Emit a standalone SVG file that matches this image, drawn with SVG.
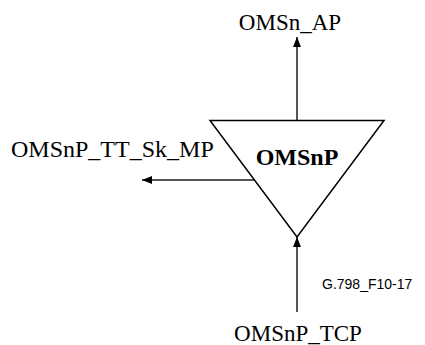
<svg xmlns="http://www.w3.org/2000/svg" width="425" height="345" viewBox="0 0 425 345">
<style>
.lbl{font-family:"Liberation Serif","Times New Roman",serif;font-size:23px;fill:#000}
.bold{font-family:"Liberation Serif","Times New Roman",serif;font-size:24px;font-weight:bold;fill:#000}
.code{font-family:"Liberation Sans",Arial,sans-serif;font-size:14px;fill:#000}
.conn{stroke:#555;stroke-width:2;fill:none}
.tri{stroke:#000;stroke-width:1.5;fill:#fff}
</style>
<defs>
<marker id="ah" markerWidth="10" markerHeight="8" refX="10" refY="4" orient="auto" markerUnits="userSpaceOnUse">
<path d="M0,0 L10,4 L0,8 Z" fill="#000"/>
</marker>
</defs>
<rect width="425" height="345" fill="#fff"/>
<g id="connectors">
<line class="conn" x1="297" y1="120" x2="297" y2="37" marker-end="url(#ah)"/>
<line class="conn" x1="254" y1="180" x2="142" y2="180" marker-end="url(#ah)"/>
<line class="conn" x1="297" y1="312" x2="297" y2="237" marker-end="url(#ah)"/>
</g>
<g id="OMSnP">
<polygon class="tri" points="210,120.5 384,120.5 297,237"/>
<text class="bold" x="297" y="165" text-anchor="middle">OMSnP</text>
</g>
<g id="OMSn_AP">
<text class="lbl" x="290" y="30" text-anchor="middle">OMSn_AP</text>
</g>
<g id="OMSnP_TT_Sk_MP">
<text class="lbl" x="11" y="157" style="font-size:24px">OMSnP_TT_Sk_MP</text>
</g>
<g id="OMSnP_TCP">
<text class="lbl" x="298" y="341" text-anchor="middle">OMSnP_TCP</text>
</g>
<text class="code" x="322" y="289">G.798_F10-17</text>
</svg>
